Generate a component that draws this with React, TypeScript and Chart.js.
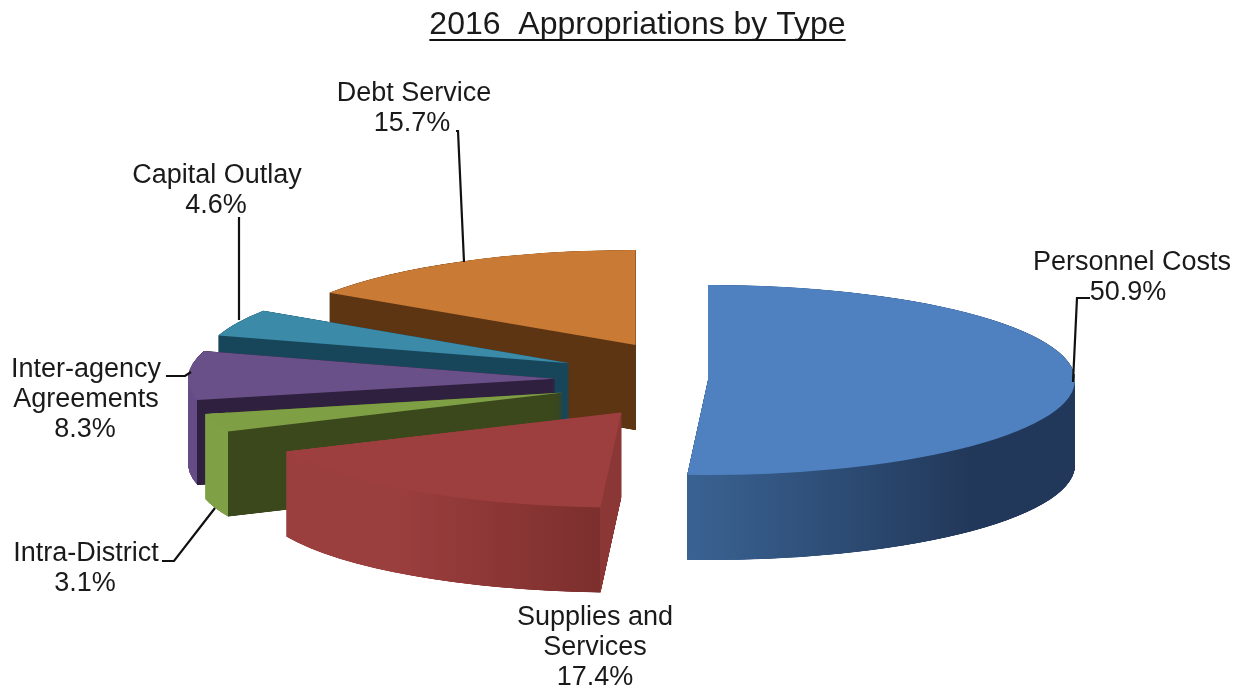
import { useEffect, useRef } from "react";
import { Chart, registerables } from "chart.js";

Chart.register(...registerables);

const categories = ["Personnel Costs", "Supplies and Services", "Intra-District", "Inter-agency Agreements", "Capital Outlay", "Debt Service"];
const shares = [50.9, 17.4, 3.1, 8.3, 4.6, 15.7];
const explosion = [0, 153, 153, 153, 153, 153];

const topColors = ["#4f81c0", "#9d3f3f", "#7f9f45", "#6a5088", "#3a8aa8", "#c97a35"];
const rimStartColors = ["#3a6393", "#9b3e3e", "#80a045", "#664c86", "#3a8aa8", "#c97a35"];
const rimEndColors = ["#22385a", "#7c2f2d", "#80a045", "#664c86", "#3a8aa8", "#c97a35"];
const cutColors = ["#22385a", "#8b3735", "#3b481c", "#30203f", "#17465a", "#5e3513"];

// Back-to-front painting order of the slices.
const paintOrder = [5, 4, 3, 2, 1, 0];

const PIE = { cx: 708, cy: 380, radius: 367, squash: 0.2589, depth: 85, layerStep: 0.125 };
const FONT = '"Liberation Sans", Arial, sans-serif';
const TITLE = "2016  Appropriations by Type";

type Callout = { lines: string[]; x: number; y: number; shareX: number; leader: number[][] };
const callouts: Callout[] = [
  { lines: ["Personnel Costs"], x: 1132, y: 270, shareX: 1128, leader: [[1073, 382], [1077, 298], [1090, 298]] },
  { lines: ["Supplies and", "Services"], x: 595, y: 625, shareX: 595, leader: [] },
  { lines: ["Intra-District"], x: 86, y: 561, shareX: 85, leader: [[162, 561], [174, 561], [215, 508]] },
  { lines: ["Inter-agency", "Agreements"], x: 86, y: 377, shareX: 85, leader: [[166, 376], [185, 376], [191, 372]] },
  { lines: ["Capital Outlay"], x: 217, y: 183, shareX: 216, leader: [[239, 217], [239, 320]] },
  { lines: ["Debt Service"], x: 414, y: 101, shareX: 412, leader: [[456, 131], [458, 131], [464, 262]] },
];

// Renders the pie as a flattened, extruded disc using the library's own arc elements.
const extrudedPie = {
  id: "extrudedPie",
  beforeDatasetsDraw(chart: any) {
    const { ctx } = chart;
    const arcs = chart.getDatasetMeta(0).data;

    const paintArc = (arc: any, i: number, drop: number, fill: any) => {
      const mid = (arc.startAngle + arc.endAngle) / 2;
      ctx.save();
      ctx.translate(PIE.cx, PIE.cy + drop);
      ctx.scale(1, PIE.squash);
      ctx.translate(Math.cos(mid) * explosion[i] - arc.x, Math.sin(mid) * explosion[i] - arc.y);
      const resolved = arc.options;
      arc.options = { ...resolved, backgroundColor: fill, borderWidth: 0 };
      arc.draw(ctx);
      arc.options = resolved;
      ctx.restore();
    };

    const wallFill = (arc: any, i: number) => {
      const r = arc.outerRadius;
      const mid = (arc.startAngle + arc.endAngle) / 2;
      const faces = [arc.startAngle, arc.endAngle].map((a: number) => arc.x + r * Math.cos(a));
      const g = ctx.createLinearGradient(arc.x - r, 0, arc.x + r, 0);
      const at = (x: number) => Math.min(1, Math.max(0, (x - (arc.x - r)) / (2 * r)));
      if (Math.cos(mid) > 0) {
        // Slice on the right: only the curved rim can be seen.
        g.addColorStop(at(Math.min(...faces)), rimStartColors[i]);
        g.addColorStop(at(arc.x + r * 0.72), rimEndColors[i]);
        return g;
      }
      // Slice on the left: rim up to the front corner, cut face beyond it.
      const corner = faces[0];
      const left = Math.min(faces[1], corner);
      g.addColorStop(at(left + (corner - left) * 0.35), rimStartColors[i]);
      g.addColorStop(at(corner), rimEndColors[i]);
      g.addColorStop(at(corner), cutColors[i]);
      g.addColorStop(1, cutColors[i]);
      return g;
    };

    for (const i of paintOrder) {
      const arc = arcs[i];
      const wall = wallFill(arc, i);
      for (let d = PIE.depth; d > 0; d -= PIE.layerStep) paintArc(arc, i, d, wall);
      paintArc(arc, i, 0, topColors[i]);
    }
    return false;
  },
  afterDraw(chart: any) {
    const { ctx, titleBlock } = chart;
    ctx.save();
    ctx.fillStyle = "#1a1a1a";
    ctx.strokeStyle = "#111111";
    ctx.textAlign = "center";
    ctx.textBaseline = "alphabetic";

    // Title underline
    ctx.font = `32px ${FONT}`;
    const width = ctx.measureText(TITLE).width;
    const mid = (titleBlock.left + titleBlock.right) / 2;
    ctx.lineWidth = 2;
    ctx.beginPath();
    ctx.moveTo(mid - width / 2, 40);
    ctx.lineTo(mid + width / 2, 40);
    ctx.stroke();

    // Slice callouts: category name, share and leader line
    ctx.font = `27px ${FONT}`;
    callouts.forEach((c, i) => {
      c.lines.forEach((row, n) => ctx.fillText(row, c.x, c.y + n * 30));
      ctx.fillText(`${shares[i].toFixed(1)}%`, c.shareX, c.y + c.lines.length * 30);
      if (c.leader.length) {
        ctx.lineWidth = 2.2;
        ctx.beginPath();
        c.leader.forEach(([x, y], n) => (n ? ctx.lineTo(x, y) : ctx.moveTo(x, y)));
        ctx.stroke();
      }
    });
    ctx.restore();
  },
};

export default function App() {
  const ref = useRef<HTMLCanvasElement>(null);
  useEffect(() => {
    const chart = new Chart(ref.current!, {
      type: "pie",
      data: {
        labels: categories,
        datasets: [{ data: shares, backgroundColor: topColors, borderWidth: 0, radius: PIE.radius } as any],
      },
      options: {
        responsive: false,
        animation: false,
        layout: { padding: { left: 34 } },
        plugins: {
          legend: { display: false },
          tooltip: { enabled: false },
          title: {
            display: true,
            text: TITLE,
            color: "#1a1a1a",
            font: { family: FONT, size: 32, weight: "normal" },
            padding: { top: 6, bottom: 10 },
          },
        },
      },
      plugins: [extrudedPie],
    } as any);
    return () => chart.destroy();
  }, []);
  return (
    <div style={{ position: "absolute", left: 0, top: 0, background: "#fff" }}>
      <canvas ref={ref} width={1241} height={688} style={{ display: "block" }} />
    </div>
  );
}
